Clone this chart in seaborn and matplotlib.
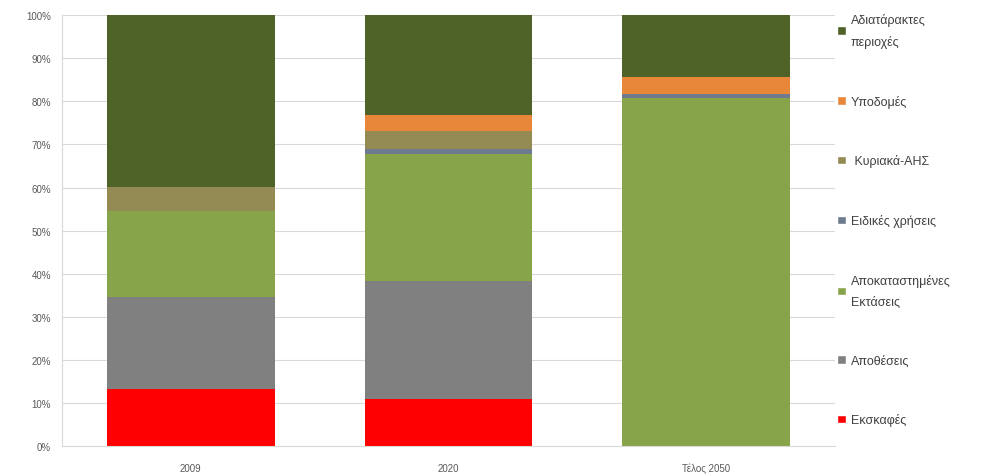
import numpy as np
import pandas as pd
import matplotlib
matplotlib.use('Agg')
import matplotlib.pyplot as plt
import seaborn as sns
from matplotlib.patches import Patch

sns.set_style("white")
plt.rcParams['font.family'] = ['Liberation Sans', 'DejaVu Sans']

# δεδομένα (ποσοστά %)
periods = ['2009', '2020', 'Τέλος 2050']
ekskafes = [13.2, 10.9, 0.0]
apotheseis = [21.3, 27.4, 0.0]
apokatastimenes = [20.0, 29.4, 80.7]
eidikes = [0.0, 1.2, 1.0]
kyriaka = [5.6, 4.3, 0.0]
ypodomes = [0.0, 3.6, 3.9]
adiataraktes = [39.9, 23.2, 14.4]

series = [
    ('Εκσκαφές', ekskafes, '#FF0000'),
    ('Αποθέσεις', apotheseis, '#808080'),
    ('Αποκαταστημένες\nΕκτάσεις', apokatastimenes, '#88A44A'),
    ('Ειδικές χρήσεις', eidikes, '#6E7B8E'),
    (' Κυριακά-ΑΗΣ', kyriaka, '#948A54'),
    ('Υποδομές', ypodomes, '#E8873A'),
    ('Αδιατάρακτες\nπεριοχές', adiataraktes, '#4F6228'),
]

fig = plt.figure(figsize=(10, 4.77), dpi=100)
ax = fig.add_axes([0.062, 0.063, 0.773, 0.903])

bottom = np.zeros(len(periods))
for name, vals, col in series:
    df = pd.DataFrame({'period': periods, 'value': vals})
    sns.barplot(data=df, x='period', y='value', color=col, width=0.65,
                bottom=bottom, ax=ax, saturation=1, linewidth=0)
    bottom = bottom + np.array(vals)

ax.set_xlim(-0.5, 2.5)
ax.set_ylim(0, 100)
ax.set_yticks(np.arange(0, 101, 10))
ax.set_yticklabels([f'{v}%' for v in range(0, 101, 10)])
ax.set_xlabel('')
ax.set_ylabel('')
ax.yaxis.grid(True, color='#D9D9D9', linewidth=0.8)
ax.set_axisbelow(True)
ax.tick_params(axis='y', labelsize=7, colors='#595959', length=0, pad=8)
ax.tick_params(axis='x', labelsize=7, colors='#595959', length=0, pad=12)
for s in ['top', 'right']:
    ax.spines[s].set_visible(False)
ax.spines['left'].set_color('#D9D9D9')
ax.spines['bottom'].set_color('#D9D9D9')

handles = [Patch(facecolor=col, label=name) for name, vals, col in series][::-1]
leg = fig.legend(handles=handles, loc='upper left', bbox_to_anchor=(0.826, 0.995),
                 frameon=False, fontsize=9, handlelength=0.7, handleheight=0.7,
                 handletextpad=0.4, labelspacing=3.75, labelcolor='#404040')
for t in leg.get_texts():
    t.set_linespacing(1.9)

fig.savefig('out.png', dpi=100)
